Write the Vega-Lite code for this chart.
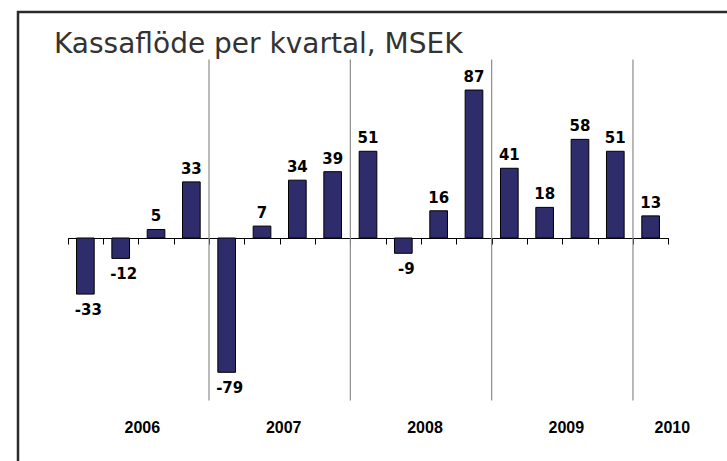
{
  "$schema": "https://vega.github.io/schema/vega-lite/v6.json",
  "width": 713,
  "height": 453,
  "autosize": {"type": "none"},
  "padding": {"left": 18, "top": 12, "right": -4, "bottom": -4},
  "background": "white",
  "title": {
    "text": "Kassaflöde per kvartal, MSEK",
    "anchor": "start",
    "frame": "group",
    "font": "DejaVu Sans",
    "fontSize": 28,
    "fontWeight": "normal",
    "color": "#333333",
    "baseline": "alphabetic",
    "offset": 0,
    "dx": 36,
    "dy": 69
  },
  "config": {
    "view": {"stroke": "#2b2b2b", "strokeWidth": 2.5},
    "axisX": {
      "offset": -227,
      "labels": false,
      "grid": false,
      "domainColor": "black",
      "domainWidth": 1,
      "tickColor": "black",
      "tickWidth": 1,
      "tickSize": 6,
      "tickBand": "extent"
    },
    "axisY": {"disable": true}
  },
  "datasets": {
    "quarters": [
      {"quarter": "2006 Q1", "value": -33},
      {"quarter": "2006 Q2", "value": -12},
      {"quarter": "2006 Q3", "value": 5},
      {"quarter": "2006 Q4", "value": 33},
      {"quarter": "2007 Q1", "value": -79},
      {"quarter": "2007 Q2", "value": 7},
      {"quarter": "2007 Q3", "value": 34},
      {"quarter": "2007 Q4", "value": 39},
      {"quarter": "2008 Q1", "value": 51},
      {"quarter": "2008 Q2", "value": -9},
      {"quarter": "2008 Q3", "value": 16},
      {"quarter": "2008 Q4", "value": 87},
      {"quarter": "2009 Q1", "value": 41},
      {"quarter": "2009 Q2", "value": 18},
      {"quarter": "2009 Q3", "value": 58},
      {"quarter": "2009 Q4", "value": 51},
      {"quarter": "2010 Q1", "value": 13}
    ],
    "separators": [
      {"quarter": "2007 Q1"},
      {"quarter": "2008 Q1"},
      {"quarter": "2009 Q1"},
      {"quarter": "2010 Q1"}
    ],
    "yearLabels": [
      {"year": "2006", "quarter": "2006 Q2"},
      {"year": "2007", "quarter": "2007 Q2"},
      {"year": "2008", "quarter": "2008 Q2"},
      {"year": "2009", "quarter": "2009 Q2"},
      {"year": "2010", "quarter": "2010 Q1"}
    ]
  },
  "layer": [
    {
      "data": {"name": "quarters"},
      "mark": {"type": "bar", "width": {"band": 0.5}, "color": "#2f2c6b", "stroke": "black", "strokeWidth": 1},
      "encoding": {
        "x": {
          "field": "quarter",
          "type": "nominal",
          "title": null,
          "scale": {
            "domain": ["2006 Q1", "2006 Q2", "2006 Q3", "2006 Q4", "2007 Q1", "2007 Q2", "2007 Q3", "2007 Q4", "2008 Q1", "2008 Q2", "2008 Q3", "2008 Q4", "2009 Q1", "2009 Q2", "2009 Q3", "2009 Q4", "2010 Q1"],
            "range": [49.7, 650.3],
            "paddingInner": 0,
            "paddingOuter": 0
          }
        },
        "y": {
          "field": "value",
          "type": "quantitative",
          "title": null,
          "scale": {"domain": [-133.5, 132.9], "nice": false}
        },
        "y2": {"datum": 0}
      }
    },
    {
      "data": {"name": "separators"},
      "mark": {"type": "rule", "color": "#8c8c8c", "strokeWidth": 1.2},
      "encoding": {
        "x": {"field": "quarter", "type": "nominal", "title": null, "bandPosition": 0},
        "y": {"datum": 105},
        "y2": {"datum": -95.5}
      }
    },
    {
      "data": {"name": "quarters"},
      "transform": [{"filter": "datum.value >= 0"}],
      "mark": {"type": "text", "font": "DejaVu Sans", "fontWeight": "bold", "fontSize": 15, "color": "black", "baseline": "alphabetic", "align": "center", "dy": -8},
      "encoding": {
        "x": {"field": "quarter", "type": "nominal", "title": null},
        "y": {"field": "value", "type": "quantitative", "title": null},
        "text": {"field": "value", "type": "nominal"}
      }
    },
    {
      "data": {"name": "quarters"},
      "transform": [{"filter": "datum.value < 0"}],
      "mark": {"type": "text", "font": "DejaVu Sans", "fontWeight": "bold", "fontSize": 15, "color": "black", "baseline": "alphabetic", "align": "center", "dy": 21, "dx": 3},
      "encoding": {
        "x": {"field": "quarter", "type": "nominal", "title": null},
        "y": {"field": "value", "type": "quantitative", "title": null},
        "text": {"field": "value", "type": "nominal"}
      }
    },
    {
      "data": {"name": "yearLabels"},
      "mark": {"type": "text", "font": "Liberation Sans", "fontWeight": "bold", "fontSize": 16, "color": "black", "baseline": "alphabetic", "align": "center", "dx": 4},
      "encoding": {
        "x": {"field": "quarter", "type": "nominal", "title": null, "bandPosition": 1},
        "y": {"datum": -114.5},
        "text": {"field": "year", "type": "nominal"}
      }
    }
  ]
}
